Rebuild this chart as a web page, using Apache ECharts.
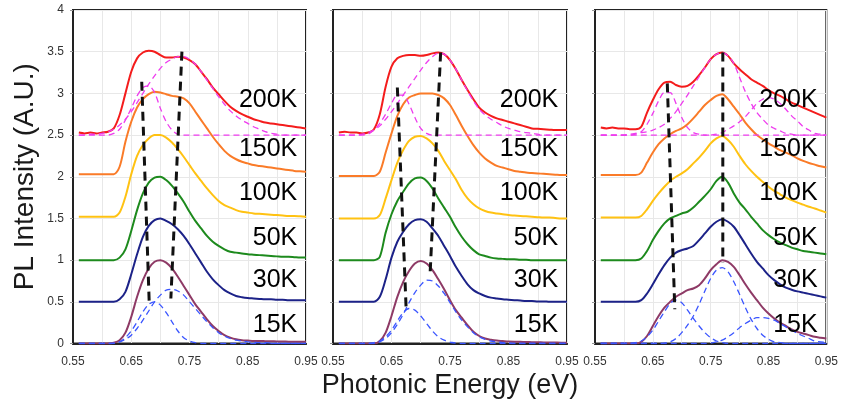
<!DOCTYPE html>
<html>
<head>
<meta charset="utf-8">
<script src="https://cdn.jsdelivr.net/npm/echarts@6/dist/echarts.min.js"></script>
<style>
html,body{margin:0;padding:0;background:#fff;}
#chart{width:841px;height:413px;}
</style>
</head>
<body>
<div id="chart"></div>
<script>
// ---------- DATA ----------
const energy = [0.56,0.57,0.58,0.59,0.60,0.61,0.62,0.63,0.64,0.65,0.66,0.67,0.68,0.69,0.70,0.71,0.72,0.73,0.74,0.75,0.76,0.77,0.78,0.79,0.80,0.81,0.82,0.83,0.84,0.85,0.86,0.87,0.88,0.89,0.90,0.91,0.92,0.93,0.94,0.95];
const temps = ['15K','30K','50K','100K','150K','200K'];

// Panel 1
const a15 = [0,0,0,0,0,0,0.01,0.04,0.13,0.32,0.56,0.76,0.90,0.98,1.00,0.97,0.90,0.80,0.69,0.58,0.47,0.38,0.29,0.21,0.15,0.10,0.07,0.05,0.04,0.035,0.03,0.03,0.028,0.026,0.025,0.023,0.022,0.02,0.02,0.02];
const a30 = [0.5,0.5,0.5,0.5,0.5,0.5,0.5,0.53,0.62,0.83,1.07,1.28,1.41,1.48,1.50,1.47,1.43,1.37,1.29,1.19,1.08,0.97,0.86,0.77,0.70,0.64,0.60,0.57,0.555,0.545,0.54,0.535,0.53,0.53,0.525,0.525,0.52,0.52,0.52,0.52];
const a50 = [1,1,1,1,1,1,1,1.03,1.13,1.35,1.60,1.80,1.93,1.99,2.00,1.96,1.89,1.80,1.70,1.58,1.47,1.38,1.29,1.22,1.17,1.13,1.10,1.09,1.08,1.07,1.065,1.06,1.055,1.05,1.045,1.04,1.04,1.035,1.03,1.03];
const a100 = [1.52,1.52,1.52,1.52,1.52,1.52,1.52,1.57,1.76,2.03,2.25,2.38,2.46,2.50,2.50,2.47,2.41,2.33,2.24,2.14,2.04,1.95,1.86,1.78,1.71,1.66,1.63,1.60,1.58,1.57,1.56,1.555,1.55,1.545,1.54,1.535,1.53,1.53,1.525,1.52];
const a150 = [2.03,2.03,2.03,2.03,2.03,2.03,2.03,2.12,2.42,2.66,2.83,2.93,2.99,3.02,3.01,2.99,2.97,2.96,2.94,2.88,2.78,2.68,2.58,2.48,2.39,2.31,2.25,2.21,2.18,2.16,2.14,2.13,2.12,2.11,2.10,2.09,2.08,2.07,2.065,2.06];
const a200 = [2.53,2.52,2.53,2.52,2.53,2.54,2.58,2.74,3.00,3.26,3.42,3.49,3.51,3.50,3.46,3.43,3.43,3.44,3.43,3.40,3.35,3.26,3.17,3.07,2.99,2.91,2.84,2.79,2.75,2.72,2.69,2.67,2.65,2.64,2.63,2.62,2.61,2.60,2.59,2.58];
const aFit200a = [2.5,2.5,2.5,2.5,2.5,2.5,2.52,2.57,2.68,2.82,2.97,3.07,3.09,3.01,2.82,2.66,2.56,2.51,2.5,2.5,2.5,2.5,2.5,2.5,2.5,2.5,2.5,2.5,2.5,2.5,2.5,2.5,2.5,2.5,2.5,2.5,2.5,2.5,2.5,2.5];
const aFit200b = [2.50,2.50,2.51,2.51,2.52,2.54,2.57,2.62,2.69,2.78,2.89,3.00,3.11,3.21,3.30,3.37,3.41,3.44,3.44,3.41,3.35,3.26,3.16,3.06,2.96,2.87,2.79,2.73,2.68,2.64,2.60,2.57,2.54,2.52,2.51,2.50,2.50,2.50,2.50,2.50];
const aFit15a = [0,0,0,0,0,0,0.005,0.02,0.07,0.15,0.26,0.38,0.47,0.50,0.46,0.37,0.26,0.15,0.07,0.03,0.01,0,0,0,0,0,0,0,0,0,0,0,0,0,0,0,0,0,0,0];
const aFit15b = [0,0,0,0,0,0,0,0.02,0.05,0.10,0.18,0.28,0.39,0.50,0.58,0.64,0.65,0.63,0.58,0.50,0.42,0.34,0.26,0.19,0.13,0.09,0.06,0.04,0.03,0.02,0.015,0.01,0.01,0.005,0,0,0,0,0,0];
const aTrendLow = [[0.668,3.14],[0.681,0.46]];
const aTrendHigh = [[0.737,3.50],[0.718,0.54]];

// Panel 2
const b15 = [0,0,0,0,0,0,0,0.03,0.13,0.33,0.56,0.74,0.87,0.96,0.99,0.96,0.88,0.77,0.65,0.52,0.40,0.31,0.22,0.14,0.09,0.06,0.045,0.035,0.03,0.025,0.022,0.02,0.018,0.016,0.015,0.013,0.012,0.011,0.01,0.01];
const b30 = [0.5,0.5,0.5,0.5,0.5,0.5,0.5,0.56,0.77,1.03,1.22,1.34,1.43,1.48,1.49,1.46,1.38,1.29,1.17,1.05,0.92,0.81,0.71,0.64,0.60,0.57,0.55,0.54,0.53,0.525,0.52,0.515,0.51,0.51,0.505,0.505,0.50,0.50,0.50,0.50];
const b50 = [1,1,1,1,1,1,1,1.04,1.33,1.55,1.71,1.82,1.92,1.98,1.99,1.95,1.86,1.74,1.63,1.52,1.39,1.28,1.19,1.12,1.07,1.05,1.03,1.02,1.015,1.01,1.01,1.005,1.005,1,1,1,1,1,1,1];
const b100 = [1.5,1.5,1.5,1.5,1.5,1.5,1.5,1.54,1.74,1.96,2.17,2.32,2.43,2.48,2.49,2.46,2.40,2.31,2.19,2.08,1.97,1.84,1.74,1.67,1.62,1.59,1.57,1.56,1.55,1.54,1.535,1.53,1.525,1.52,1.515,1.51,1.51,1.505,1.50,1.50];
const b150 = [2.01,2.01,2.01,2.01,2.01,2.01,2.01,2.06,2.29,2.52,2.73,2.87,2.95,2.98,3.00,3.00,3.00,2.98,2.94,2.86,2.74,2.61,2.49,2.38,2.29,2.22,2.17,2.13,2.11,2.09,2.07,2.06,2.05,2.045,2.04,2.035,2.03,2.025,2.02,2.02];
const b200 = [2.53,2.54,2.53,2.53,2.52,2.53,2.57,2.75,3.08,3.32,3.42,3.45,3.46,3.46,3.45,3.46,3.48,3.49,3.47,3.40,3.29,3.16,3.04,2.93,2.83,2.77,2.73,2.70,2.68,2.66,2.64,2.62,2.60,2.58,2.575,2.57,2.565,2.56,2.56,2.56];
const bFit200a = [2.5,2.5,2.5,2.5,2.5,2.51,2.56,2.64,2.75,2.88,2.98,2.98,2.87,2.71,2.58,2.52,2.5,2.5,2.5,2.5,2.5,2.5,2.5,2.5,2.5,2.5,2.5,2.5,2.5,2.5,2.5,2.5,2.5,2.5,2.5,2.5,2.5,2.5,2.5,2.5];
const bFit200b = [2.50,2.50,2.50,2.50,2.51,2.53,2.56,2.61,2.69,2.78,2.88,2.98,3.08,3.18,3.28,3.37,3.44,3.48,3.47,3.40,3.29,3.16,3.03,2.91,2.81,2.74,2.69,2.65,2.61,2.58,2.56,2.54,2.53,2.52,2.51,2.50,2.50,2.50,2.50,2.50];
const bFit15a = [0,0,0,0,0,0,0.01,0.03,0.08,0.16,0.27,0.37,0.42,0.40,0.33,0.24,0.15,0.08,0.04,0.015,0.005,0,0,0,0,0,0,0,0,0,0,0,0,0,0,0,0,0,0,0];
const bFit15b = [0,0,0,0,0,0,0,0.02,0.06,0.13,0.23,0.35,0.49,0.61,0.70,0.76,0.75,0.69,0.60,0.49,0.38,0.28,0.20,0.13,0.08,0.05,0.03,0.02,0.01,0.005,0,0,0,0,0,0,0,0,0,0];
const bTrendLow = [[0.660,3.07],[0.675,0.42]];
const bTrendHigh = [[0.734,3.49],[0.716,0.84]];

// Panel 3
const c15 = [0,0,0,0,0,0,0,0.02,0.09,0.21,0.33,0.43,0.50,0.56,0.60,0.64,0.66,0.70,0.78,0.88,0.95,1.00,0.98,0.92,0.82,0.71,0.61,0.52,0.43,0.36,0.30,0.25,0.21,0.17,0.14,0.12,0.10,0.08,0.07,0.06];
const c30 = [0.5,0.5,0.5,0.5,0.5,0.5,0.5,0.52,0.60,0.71,0.83,0.94,1.03,1.09,1.12,1.14,1.17,1.24,1.32,1.40,1.46,1.49,1.46,1.40,1.30,1.19,1.08,0.98,0.90,0.82,0.76,0.71,0.67,0.645,0.625,0.61,0.595,0.58,0.565,0.55];
const c50 = [1,1,1,1,1,1,1,1.02,1.11,1.24,1.35,1.44,1.50,1.53,1.56,1.58,1.63,1.70,1.77,1.85,1.95,2.00,1.93,1.80,1.69,1.61,1.52,1.44,1.36,1.30,1.25,1.21,1.18,1.15,1.13,1.11,1.10,1.09,1.08,1.07];
const c100 = [1.51,1.51,1.51,1.51,1.51,1.51,1.51,1.53,1.61,1.71,1.80,1.88,1.95,2.00,2.04,2.09,2.16,2.23,2.31,2.40,2.46,2.49,2.44,2.36,2.25,2.15,2.07,2.00,1.94,1.88,1.83,1.79,1.75,1.72,1.69,1.665,1.64,1.62,1.595,1.57];
const c150 = [2.02,2.02,2.02,2.02,2.02,2.02,2.02,2.05,2.17,2.29,2.39,2.46,2.51,2.55,2.58,2.63,2.70,2.78,2.86,2.92,2.97,2.99,2.93,2.84,2.75,2.65,2.57,2.50,2.45,2.40,2.36,2.32,2.29,2.26,2.22,2.19,2.165,2.145,2.125,2.11];
const c200 = [2.59,2.58,2.59,2.58,2.58,2.57,2.57,2.60,2.77,2.92,3.05,3.13,3.14,3.10,3.08,3.09,3.14,3.22,3.31,3.41,3.47,3.49,3.45,3.36,3.29,3.23,3.17,3.13,3.09,3.04,3.00,2.97,2.93,2.89,2.86,2.83,2.80,2.77,2.74,2.71];
const cFit200a = [2.5,2.5,2.5,2.5,2.5,2.5,2.51,2.54,2.63,2.76,2.91,3.01,3.01,2.88,2.71,2.59,2.53,2.51,2.5,2.5,2.5,2.5,2.5,2.5,2.5,2.5,2.5,2.5,2.5,2.5,2.5,2.5,2.5,2.5,2.5,2.5,2.5,2.5,2.5,2.5];
const cFit200b = [2.5,2.5,2.5,2.5,2.5,2.51,2.52,2.53,2.54,2.56,2.59,2.63,2.70,2.78,2.88,2.98,3.09,3.20,3.31,3.41,3.47,3.49,3.45,3.36,3.19,3.02,2.88,2.77,2.69,2.62,2.58,2.55,2.52,2.51,2.5,2.5,2.5,2.5,2.5,2.5];
const cFit200c = [2.5,2.5,2.5,2.5,2.5,2.5,2.5,2.5,2.5,2.5,2.5,2.5,2.5,2.5,2.5,2.5,2.5,2.5,2.5,2.5,2.51,2.53,2.57,2.61,2.66,2.72,2.80,2.88,2.93,2.95,2.93,2.88,2.81,2.73,2.67,2.60,2.56,2.52,2.51,2.50];
const cFit15a = [0,0,0,0,0,0,0.01,0.03,0.08,0.16,0.27,0.38,0.48,0.52,0.49,0.40,0.30,0.21,0.13,0.07,0.03,0.01,0,0,0,0,0,0,0,0,0,0,0,0,0,0,0,0,0,0];
const cFit15b = [0,0,0,0,0,0,0,0,0,0,0,0.005,0.02,0.06,0.13,0.22,0.33,0.47,0.63,0.78,0.88,0.91,0.86,0.74,0.59,0.43,0.29,0.18,0.10,0.05,0.02,0.01,0,0,0,0,0,0,0,0];
const cFit15c = [0,0,0,0,0,0,0,0,0,0,0,0,0,0,0,0,0,0,0,0.005,0.02,0.04,0.08,0.13,0.19,0.24,0.28,0.31,0.31,0.30,0.28,0.24,0.20,0.16,0.12,0.09,0.06,0.03,0.02,0.01];
const cTrendLow = [[0.675,3.12],[0.688,0.41]];
const cTrendHigh = [[0.771,3.49],[0.771,0.97]];

// ---------- STYLE / LAYOUT ----------
const curveColors = ['#8e3a66','#1c2288','#1d8a1d','#ffc212','#fa7b28','#f41c1c'];
const magenta = '#ee3cee';
const fitBlue = '#3a55ff';
const FONT = 'Liberation Sans, Arial, sans-serif';
const labelX = 0.935;
const labelY = [0.22, 0.76, 1.26, 1.80, 2.33, 2.92];

const panels = [
  {curves:[a15,a30,a50,a100,a150,a200], magenta:[aFit200a,aFit200b], blue:[aFit15a,aFit15b], trends:[aTrendLow,aTrendHigh]},
  {curves:[b15,b30,b50,b100,b150,b200], magenta:[bFit200a,bFit200b], blue:[bFit15a,bFit15b], trends:[bTrendLow,bTrendHigh]},
  {curves:[c15,c30,c50,c100,c150,c200], magenta:[cFit200a,cFit200b,cFit200c], blue:[cFit15a,cFit15b,cFit15c], trends:[cTrendLow,cTrendHigh]}
];
const gridLefts = [73, 333, 595];
const gridWidths = [233, 234, 232];

const pairs = arr => energy.map((e, i) => [e, arr[i]]);

const grids = [], xAxes = [], yAxes = [], series = [];
panels.forEach((p, gi) => {
  grids.push({left: gridLefts[gi], top: 10, width: gridWidths[gi], height: 333.5,
    show: true, borderColor: '#222', borderWidth: 2, backgroundColor: '#fff'});
  xAxes.push({
    type: 'value', gridIndex: gi, min: 0.55, max: 0.95, interval: 0.05,
    axisLine: {show: true, onZero: false, lineStyle: {color: '#222', width: 2}},
    axisTick: {show: false},
    splitLine: {show: true, lineStyle: {color: '#e8e8e8', width: 1}},
    axisLabel: {
      show: true, margin: 12, fontSize: 12, color: '#333', fontFamily: FONT,
      showMinLabel: true, showMaxLabel: true,
      formatter: v => (Math.round(v * 100) % 10 === 5 ? v.toFixed(2) : '')
    },
    name: gi === 1 ? 'Photonic Energy (eV)' : '',
    nameLocation: 'middle', nameGap: 28,
    nameTextStyle: {fontSize: 27, color: '#1a1a1a', fontFamily: FONT}
  });
  yAxes.push({
    type: 'value', gridIndex: gi, min: 0, max: 4, interval: 0.5,
    axisLine: {show: true, lineStyle: {color: '#222', width: 2}},
    axisTick: {show: true, length: 3, lineStyle: {color: '#999'}},
    splitLine: {show: true, lineStyle: {color: '#e8e8e8', width: 1}},
    axisLabel: {show: gi === 0, margin: 9, fontSize: 12, color: '#333', fontFamily: FONT},
    name: gi === 0 ? 'PL Intensity (A.U.)' : '',
    nameLocation: 'middle', nameGap: 34, nameRotate: 90,
    nameTextStyle: {fontSize: 28, color: '#1a1a1a', fontFamily: FONT}
  });
  p.curves.forEach((arr, ci) => {
    series.push({type: 'line', xAxisIndex: gi, yAxisIndex: gi, data: pairs(arr),
      showSymbol: false, symbol: 'none', smooth: 0.3, z: 2,
      lineStyle: {color: curveColors[ci], width: 2}});
  });
  p.magenta.forEach(arr => {
    series.push({type: 'line', xAxisIndex: gi, yAxisIndex: gi, data: pairs(arr),
      showSymbol: false, symbol: 'none', smooth: 0.3, z: 3,
      lineStyle: {color: magenta, width: 1.3, type: [6, 4]}});
  });
  p.blue.forEach(arr => {
    series.push({type: 'line', xAxisIndex: gi, yAxisIndex: gi, data: pairs(arr),
      showSymbol: false, symbol: 'none', smooth: 0.3, z: 3,
      lineStyle: {color: fitBlue, width: 1.3, type: [6, 4]}});
  });
  p.trends.forEach(seg => {
    series.push({type: 'line', xAxisIndex: gi, yAxisIndex: gi, data: seg,
      showSymbol: false, symbol: 'none', z: 4,
      lineStyle: {color: '#111', width: 3, type: [9, 6]}});
  });
  series.push({type: 'scatter', xAxisIndex: gi, yAxisIndex: gi, symbolSize: 0, z: 5,
    itemStyle: {opacity: 1},
    data: temps.map((t, i) => ({name: t, value: [labelX, labelY[i]]})),
    label: {show: true, formatter: '{b}', position: 'left', distance: 0, opacity: 1,
      fontSize: 25, color: '#000', fontFamily: FONT}});
});

const chart = echarts.init(document.getElementById('chart'), null, {renderer: 'canvas'});
chart.setOption({
  animation: false,
  backgroundColor: '#fff',
  grid: grids, xAxis: xAxes, yAxis: yAxes, series: series
});
</script>
</body>
</html>
